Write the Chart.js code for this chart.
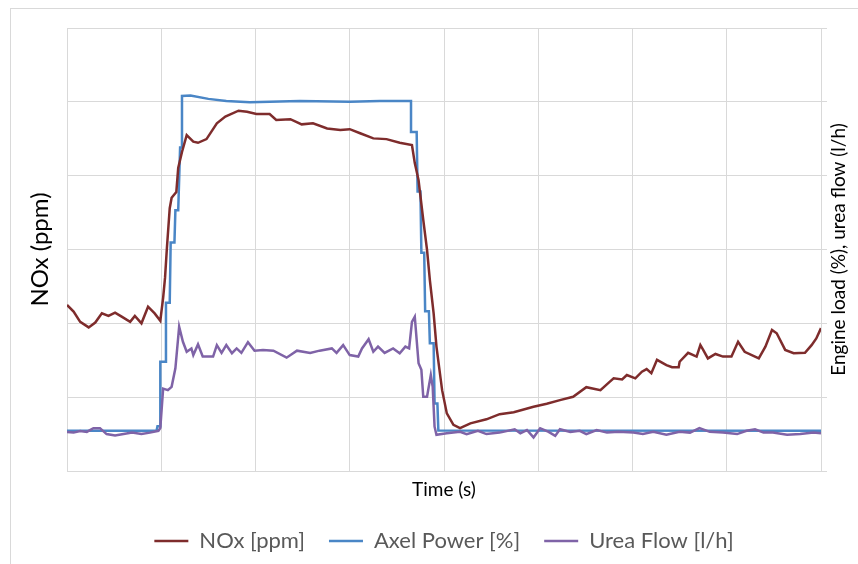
<!DOCTYPE html>
<html>
<head>
<meta charset="utf-8">
<title>NOx vs engine load</title>
<script src="https://cdn.jsdelivr.net/npm/chart.js@4.4.1/dist/chart.umd.min.js"></script>
<style>
  html, body { margin: 0; padding: 0; background: #fff; }
  #wrap { width: 858px; height: 564px; }
</style>
</head>
<body>
<div id="wrap"><canvas id="noxChart" width="858" height="564"></canvas></div>
<script>
// time axis (s)
const noxTime = [0,7,14,23,30,37,44,51,58,67,72,79,86,93,99,102,104,106,109,111,116,118,122,127,134,139,148,159,168,182,191,201,215,222,237,249,261,276,290,300,311,325,339,353,366,369,373,378,382,385,389,392,398,403,410,417,428,445,459,474,495,509,523,537,551,566,576,580,589,594,603,610,615,620,626,636,642,649,650,659,668,672,675,680,688,696,705,712,719,734,741,748,753,762,771,783,790,795,800];
const noxValues = [450,432,404,389,402,427,420,429,418,404,420,400,445,427,407,469,523,604,712,740,756,821,864,910,892,889,899,942,960,976,973,967,967,951,953,939,942,928,924,926,915,901,899,889,883,834,788,680,599,517,427,337,219,156,125,116,129,140,154,159,174,182,192,201,227,219,242,251,248,260,251,269,276,265,301,287,281,281,296,320,310,341,328,305,317,310,310,350,323,305,337,382,373,328,319,320,341,359,387];

const powerTime = [0,95,96,99,99,105,105,109,110,114,115,118,120,121,122,131,150,169,194,247,300,332,365,365,371,372,375,376,379,380,384,385,389,390,393,394,800];
const powerValues = [10.9,10.9,12.1,12.1,29.6,29.6,45.6,45.6,61.9,61.9,70.6,70.6,87.6,87.6,101.6,101.7,100.8,100.2,99.9,100.2,100.0,100.2,100.2,91.8,91.8,75.7,75.7,59.1,59.1,43.3,43.3,34.6,34.6,18.3,18.3,11.0,10.9];

const ureaTime = [0,7,14,21,28,35,42,51,60,69,79,88,97,99,102,107,111,115,119,123,127,132,134,139,144,155,159,164,169,175,180,185,192,199,208,219,233,244,258,268,281,286,293,300,309,313,320,325,330,337,346,353,359,363,366,369,373,376,378,382,386,388,390,392,403,417,424,436,445,459,475,481,488,495,502,511,518,523,534,544,551,562,573,585,601,611,622,636,650,661,671,682,696,711,721,730,739,749,764,778,792,800];
const ureaValues = [10.6,10.4,10.8,10.6,11.6,11.6,10.0,9.6,10.0,10.4,10.0,10.4,10.9,11.6,22.3,21.9,22.8,27.8,39.1,35.0,32.3,33.2,31.4,34.3,31.0,31.0,34.1,32.0,34.1,31.9,33.2,32.0,34.9,32.6,32.8,32.6,30.7,32.6,32.0,32.6,33.2,32.0,34.1,31.4,31.0,33.2,35.7,32.3,33.7,32.0,33.2,31.9,33.7,33.2,40.4,41.8,29.2,27.4,20.1,20.1,26.0,22.8,12.0,9.8,10.2,10.6,10.0,10.9,10.0,10.4,11.3,10.2,11.1,9.1,11.6,10.6,9.5,11.3,10.6,10.9,10.0,11.1,10.4,10.6,10.4,10.0,10.6,9.8,10.6,10.4,11.6,10.6,10.4,10.0,10.9,11.3,10.4,10.4,9.8,10.0,10.4,10.2];

const seriesNames = ['NOx [ppm]', 'Axel Power [%]', 'Urea Flow [l/h]'];
const leftTitle = 'NOx (ppm)';
const rightTitle = 'Engine load (%), urea flow (l/h)';
const bottomTitle = 'Time (s)';

const gridColor = '#d9d9d9';

function toPoints(xs, ys) {
    return xs.map((x, i) => ({ x: x, y: ys[i] }));
}

// outer frame + right axis title (reads bottom to top, like the original)
const frameAndTitle = {
    id: 'frameAndTitle',
    beforeDraw(chart) {
        const ctx = chart.ctx;
        ctx.save();
        ctx.strokeStyle = gridColor;
        ctx.lineWidth = 1;
        ctx.strokeRect(10.5, 8.5, 900, 600);
        ctx.restore();
    },
    afterDraw(chart) {
        const ctx = chart.ctx;
        const area = chart.chartArea;
        ctx.save();
        ctx.translate(area.right + 18, (area.top + area.bottom) / 2);
        ctx.rotate(-Math.PI / 2);
        ctx.font = '19px Lato';
        ctx.fillStyle = '#000';
        ctx.textAlign = 'center';
        ctx.textBaseline = 'middle';
        ctx.fillText(rightTitle, 0, 0);
        ctx.restore();
    }
};

const ctx = document.getElementById('noxChart').getContext('2d');

new Chart(ctx, {
    type: 'line',
    data: {
        datasets: [
            {
                label: seriesNames[0],
                data: toPoints(noxTime, noxValues),
                yAxisID: 'y',
                borderColor: '#7e2c2c',
                backgroundColor: '#7e2c2c',
                borderWidth: 2.5,
                pointRadius: 0,
                tension: 0,
                order: 1
            },
            {
                label: seriesNames[1],
                data: toPoints(powerTime, powerValues),
                yAxisID: 'y2',
                borderColor: '#4a86c6',
                backgroundColor: '#4a86c6',
                borderWidth: 2.5,
                pointRadius: 0,
                tension: 0,
                order: 2
            },
            {
                label: seriesNames[2],
                data: toPoints(ureaTime, ureaValues),
                yAxisID: 'y2',
                borderColor: '#7f63a7',
                backgroundColor: '#7f63a7',
                borderWidth: 2.5,
                pointRadius: 0,
                tension: 0,
                order: 0
            }
        ]
    },
    options: {
        responsive: false,
        animation: false,
        devicePixelRatio: 1,
        // left padding only nudges the legend to the right; the y axis width makes up for it
        layout: { padding: { top: 28, bottom: 2, left: 30, right: 0 } },
        plugins: {
            tooltip: { enabled: false },
            legend: {
                position: 'bottom',
                labels: {
                    usePointStyle: true,
                    pointStyle: 'line',
                    pointStyleWidth: 34,
                    boxHeight: 16,
                    padding: 24,
                    color: '#595959',
                    font: { family: 'Lato', size: 22 },
                    sort: (a, b) => a.datasetIndex - b.datasetIndex
                }
            }
        },
        scales: {
            x: {
                type: 'linear',
                min: 0,
                max: 800,
                ticks: { stepSize: 100, display: false },
                grid: { color: gridColor, drawTicks: false },
                border: { color: gridColor },
                title: {
                    display: true,
                    text: bottomTitle,
                    color: '#000',
                    font: { family: 'Lato', size: 19 },
                    padding: { top: 0, bottom: 5 }
                },
                afterFit: s => { s.height = 35; }
            },
            y: {
                position: 'left',
                min: 0,
                max: 1200,
                ticks: { stepSize: 200, display: false },
                grid: { color: gridColor, drawTicks: false },
                border: { color: gridColor },
                title: {
                    display: true,
                    text: leftTitle,
                    color: '#000',
                    font: { family: 'Lato', size: 24, lineHeight: 0.8 },
                    padding: { top: 1, bottom: 0 }
                },
                afterFit: s => { s.width = 37; }
            },
            y2: {
                position: 'right',
                min: 0,
                max: 120,
                ticks: { stepSize: 20, display: false },
                grid: { color: gridColor, drawOnChartArea: false, drawTicks: true, tickLength: 6 },
                border: { color: gridColor },
                afterFit: s => { s.width = 37; }
            }
        }
    },
    plugins: [frameAndTitle]
});
</script>
</body>
</html>
